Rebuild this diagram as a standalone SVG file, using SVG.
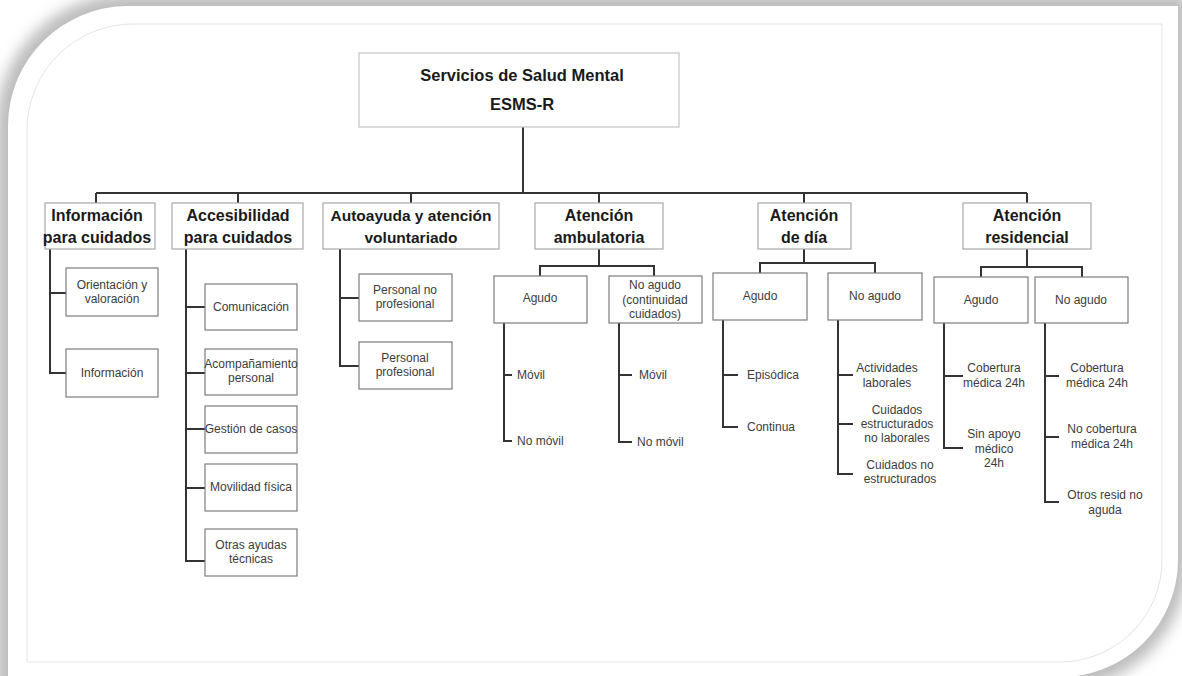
<svg xmlns="http://www.w3.org/2000/svg" width="1182" height="676" viewBox="0 0 1182 676">
  <defs>
    <filter id="soft" x="-10%" y="-10%" width="120%" height="120%">
      <feGaussianBlur stdDeviation="7"/>
    </filter>
    <style>
      .frame-line { fill: none; stroke: #e4e4e4; stroke-width: 1; }
      .title-box { fill: #fff; stroke: #c4c4c4; stroke-width: 1.2; }
      .cat-box { fill: #fff; stroke: #a8a8a8; stroke-width: 1.2; }
      .sub-box { fill: #fff; stroke: #7c7c7c; stroke-width: 1.2; }
      .link { fill: none; stroke: #333; stroke-width: 2; }
      .title { font-family: "Liberation Sans", Arial, sans-serif; font-size: 16.5px; font-weight: bold; fill: #1a1a1a; text-anchor: middle; }
      .cat { font-family: "Liberation Sans", Arial, sans-serif; font-size: 16px; font-weight: bold; fill: #1a1a1a; text-anchor: middle; }
      .sub { font-family: "Liberation Sans", Arial, sans-serif; font-size: 12px; fill: #3c3c3c; text-anchor: middle; }
      .leaf { font-family: "Liberation Sans", Arial, sans-serif; font-size: 12px; fill: #3c3c3c; }
    </style>
  </defs>

  <!-- page backdrop with soft shadow around the sheet -->
  <rect x="0" y="0" width="1182" height="676" fill="#ffffff"/>
  <path d="M-4,700 L-4,126 A132 132 0 0 1 128,-6 L1188,-6 L1188,560 A130 130 0 0 1 1058,690 L-4,700 Z" fill="#bdbdbd" filter="url(#soft)"/>
  <path d="M8,690 L8,126 A120 120 0 0 1 128,6 L1178,6 L1178,560 A117 117 0 0 1 1061,677 L1040,690 Z" fill="#ffffff"/>
  <path class="frame-line" d="M27,662 L27,130 A106 106 0 0 1 133,24 L1162,24 L1162,560 A102 102 0 0 1 1060,662 Z"/>

  <!-- connectors -->
  <g id="connectors">
    <!-- root to category bar -->
    <path class="link" d="M523,127 V193 M96,193 H1027 M96,193 V203 M238,193 V203 M411,193 V203 M599,193 V203 M804,193 V203 M1027,193 V203"/>
    <!-- Información para cuidados -->
    <path class="link" d="M50,249 V373 H66 M50,293 H66"/>
    <!-- Accesibilidad para cuidados -->
    <path class="link" d="M186,249 V561 H205 M186,307 H205 M186,373 H205 M186,429 H205 M186,488 H205"/>
    <!-- Autoayuda y atención voluntariado -->
    <path class="link" d="M340,249 V366 H359 M340,298 H359"/>
    <!-- Atención ambulatoria -->
    <path class="link" d="M599,249 V266 M540,276 V266 H654 V276"/>
    <path class="link" d="M504,323 V441 H512 M504,375 H512"/>
    <path class="link" d="M619,323 V442 H632 M619,375 H632"/>
    <!-- Atención de día -->
    <path class="link" d="M804,249 V263 M760,273 V263 H875 V273"/>
    <path class="link" d="M723,320 V427 H738 M723,375 H738"/>
    <path class="link" d="M838,320 V474 H853 M838,375 H853 M838,424 H853"/>
    <!-- Atención residencial -->
    <path class="link" d="M1027,249 V267 M981,277 V267 H1082 V277"/>
    <path class="link" d="M944,323 V448 H963 M944,376 H963"/>
    <path class="link" d="M1045,323 V502 H1059 M1045,376 H1059 M1045,437 H1059"/>
  </g>

  <!-- root -->
  <g id="root">
    <rect class="title-box" x="359" y="53" width="320" height="74"/>
    <text class="title" x="522" y="81">Servicios de Salud Mental</text>
    <text class="title" x="522" y="110">ESMS-R</text>
  </g>

  <!-- categories -->
  <g id="cat-informacion">
    <rect class="cat-box" x="45" y="203" width="110" height="46"/>
    <text class="cat" x="97" y="221">Información</text>
    <text class="cat" x="97" y="243">para cuidados</text>
  </g>
  <g id="cat-accesibilidad">
    <rect class="cat-box" x="172" y="203" width="131" height="46"/>
    <text class="cat" x="238" y="221">Accesibilidad</text>
    <text class="cat" x="238" y="243">para cuidados</text>
  </g>
  <g id="cat-autoayuda">
    <rect class="cat-box" x="323" y="203" width="176" height="46"/>
    <text class="cat" x="411" y="221" style="font-size:15.5px">Autoayuda y atención</text>
    <text class="cat" x="411" y="243" style="font-size:15.5px">voluntariado</text>
  </g>
  <g id="cat-ambulatoria">
    <rect class="cat-box" x="535" y="203" width="128" height="46"/>
    <text class="cat" x="599" y="221">Atención</text>
    <text class="cat" x="599" y="243">ambulatoria</text>
  </g>
  <g id="cat-dia">
    <rect class="cat-box" x="758" y="203" width="93" height="46"/>
    <text class="cat" x="804" y="221">Atención</text>
    <text class="cat" x="804" y="243">de día</text>
  </g>
  <g id="cat-residencial">
    <rect class="cat-box" x="963" y="203" width="128" height="46"/>
    <text class="cat" x="1027" y="221">Atención</text>
    <text class="cat" x="1027" y="243">residencial</text>
  </g>

  <!-- Información para cuidados: children -->
  <g id="orientacion">
    <rect class="sub-box" x="66" y="268" width="92" height="48"/>
    <text class="sub" x="112" y="289">Orientación y</text>
    <text class="sub" x="112" y="303">valoración</text>
  </g>
  <g id="informacion">
    <rect class="sub-box" x="66" y="349" width="92" height="48"/>
    <text class="sub" x="112" y="377">Información</text>
  </g>

  <!-- Accesibilidad para cuidados: children -->
  <g id="comunicacion">
    <rect class="sub-box" x="205" y="284" width="92" height="46"/>
    <text class="sub" x="251" y="311">Comunicación</text>
  </g>
  <g id="acompanamiento">
    <rect class="sub-box" x="205" y="349" width="92" height="46"/>
    <text class="sub" x="251" y="368">Acompañamiento</text>
    <text class="sub" x="251" y="382">personal</text>
  </g>
  <g id="gestion">
    <rect class="sub-box" x="205" y="406" width="92" height="47"/>
    <text class="sub" x="251" y="433">Gestión de casos</text>
  </g>
  <g id="movilidad">
    <rect class="sub-box" x="205" y="464" width="92" height="47"/>
    <text class="sub" x="251" y="491">Movilidad física</text>
  </g>
  <g id="otras-ayudas">
    <rect class="sub-box" x="205" y="529" width="92" height="47"/>
    <text class="sub" x="251" y="549">Otras ayudas</text>
    <text class="sub" x="251" y="563">técnicas</text>
  </g>

  <!-- Autoayuda: children -->
  <g id="personal-no-prof">
    <rect class="sub-box" x="359" y="274" width="93" height="47"/>
    <text class="sub" x="405" y="294">Personal no</text>
    <text class="sub" x="405" y="308">profesional</text>
  </g>
  <g id="personal-prof">
    <rect class="sub-box" x="359" y="342" width="93" height="47"/>
    <text class="sub" x="405" y="362">Personal</text>
    <text class="sub" x="405" y="376">profesional</text>
  </g>

  <!-- Atención ambulatoria: children -->
  <g id="amb-agudo">
    <rect class="sub-box" x="494" y="276" width="93" height="47"/>
    <text class="sub" x="540" y="302">Agudo</text>
    <text class="leaf" x="517" y="379">Móvil</text>
    <text class="leaf" x="517" y="445">No móvil</text>
  </g>
  <g id="amb-no-agudo">
    <rect class="sub-box" x="609" y="276" width="93" height="47"/>
    <text class="sub" x="655" y="289">No agudo</text>
    <text class="sub" x="655" y="304">(continuidad</text>
    <text class="sub" x="655" y="318">cuidados)</text>
    <text class="leaf" x="639" y="379">Móvil</text>
    <text class="leaf" x="637" y="446">No móvil</text>
  </g>

  <!-- Atención de día: children -->
  <g id="dia-agudo">
    <rect class="sub-box" x="713" y="273" width="94" height="47"/>
    <text class="sub" x="760" y="300">Agudo</text>
    <text class="leaf" x="747" y="379">Episódica</text>
    <text class="leaf" x="747" y="431">Continua</text>
  </g>
  <g id="dia-no-agudo">
    <rect class="sub-box" x="828" y="273" width="94" height="47"/>
    <text class="sub" x="875" y="300">No agudo</text>
    <text class="sub" x="887" y="372">Actividades</text>
    <text class="sub" x="887" y="387">laborales</text>
    <text class="sub" x="897" y="414">Cuidados</text>
    <text class="sub" x="897" y="428">estructurados</text>
    <text class="sub" x="897" y="442">no laborales</text>
    <text class="sub" x="900" y="469">Cuidados no</text>
    <text class="sub" x="900" y="483">estructurados</text>
  </g>

  <!-- Atención residencial: children -->
  <g id="res-agudo">
    <rect class="sub-box" x="934" y="277" width="94" height="46"/>
    <text class="sub" x="981" y="304">Agudo</text>
    <text class="sub" x="994" y="372">Cobertura</text>
    <text class="sub" x="994" y="387">médica 24h</text>
    <text class="sub" x="994" y="438">Sin apoyo</text>
    <text class="sub" x="994" y="453">médico</text>
    <text class="sub" x="994" y="467">24h</text>
  </g>
  <g id="res-no-agudo">
    <rect class="sub-box" x="1035" y="277" width="93" height="46"/>
    <text class="sub" x="1081" y="304">No agudo</text>
    <text class="sub" x="1097" y="372">Cobertura</text>
    <text class="sub" x="1097" y="387">médica 24h</text>
    <text class="sub" x="1102" y="433">No cobertura</text>
    <text class="sub" x="1102" y="448">médica 24h</text>
    <text class="sub" x="1105" y="499">Otros resid no</text>
    <text class="sub" x="1105" y="514">aguda</text>
  </g>
</svg>
